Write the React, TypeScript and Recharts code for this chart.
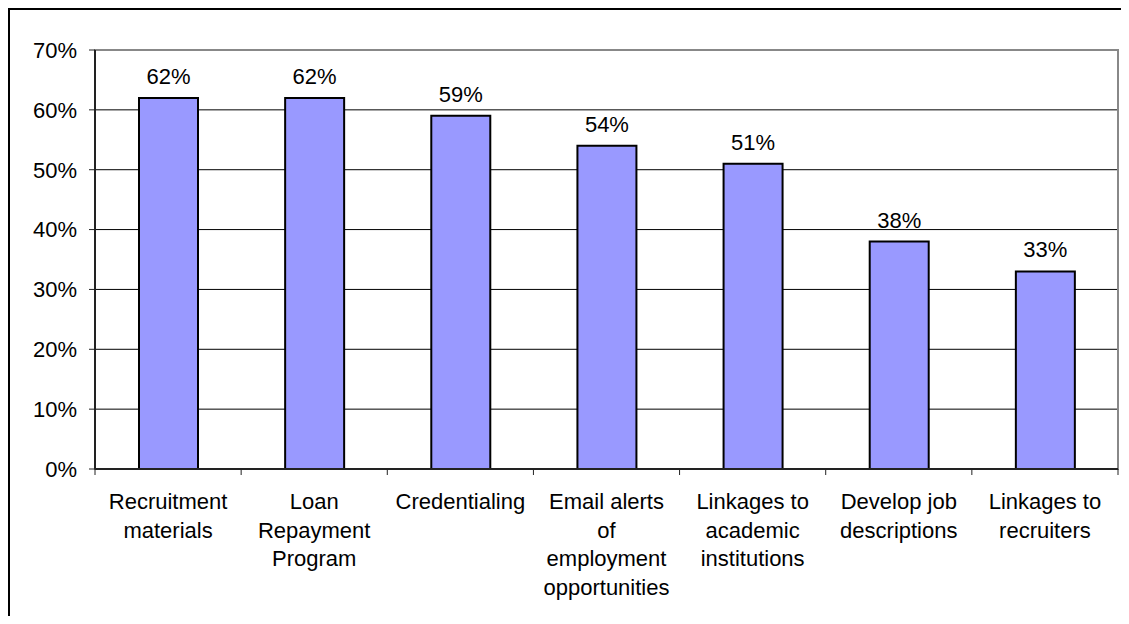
import { BarChart, Bar, XAxis, YAxis, CartesianGrid, LabelList, ReferenceArea } from 'recharts';

const categories = [
  'Recruitment\nmaterials',
  'Loan\nRepayment\nProgram',
  'Credentialing',
  'Email alerts\nof\nemployment\nopportunities',
  'Linkages to\nacademic\ninstitutions',
  'Develop job\ndescriptions',
  'Linkages to\nrecruiters',
];
const shares = [0.62, 0.62, 0.59, 0.54, 0.51, 0.38, 0.33];
const yTicks = [0, 0.1, 0.2, 0.3, 0.4, 0.5, 0.6, 0.7];

const data = categories.map((name, i) => ({ name, value: shares[i] }));

const FONT = '"Liberation Sans", Arial, sans-serif';
const pct = (v: number) => `${Math.round(v * 100)}%`;

// category label plus the little tick marks at the category boundaries
function CategoryTick(props: any) {
  const { x, y, payload, index, width, visibleTicksCount } = props;
  const lines = String(payload.value).split('\n');
  const band = width && visibleTicksCount ? width / visibleTicksCount : 146;
  const isLast = index === visibleTicksCount - 1;
  return (
    <g>
      <line x1={x - band / 2} x2={x - band / 2} y1={y} y2={y + 6} stroke="#222" strokeWidth={1} />
      {isLast && <line x1={x + band / 2} x2={x + band / 2} y1={y} y2={y + 6} stroke="#222" strokeWidth={1} />}
      <text x={x} y={y + 40} textAnchor="middle" fill="#000" fontSize={22} fontFamily={FONT}>
        {lines.map((line, i) => (
          <tspan key={i} x={x} dy={i === 0 ? 0 : 28.5}>
            {line}
          </tspan>
        ))}
      </text>
    </g>
  );
}

export default function App() {
  return (
    <div
      style={{
        width: 1111,
        height: 606,
        borderTop: '2px solid #000',
        borderLeft: '2px solid #000',
        overflow: 'hidden',
        background: '#fff',
      }}
    >
      <BarChart
        width={1111}
        height={606}
        data={data}
        margin={{ top: 40, right: 3, bottom: 0, left: 0 }}
        barSize={59}
      >
        <CartesianGrid vertical={false} stroke="#000" strokeWidth={1} />
        <ReferenceArea
          x1={categories[0]}
          x2={categories[categories.length - 1]}
          y1={0}
          y2={0.7}
          fill="none"
          fillOpacity={0}
          stroke="#888"
          strokeWidth={2}
          ifOverflow="visible"
        />
        <XAxis
          dataKey="name"
          interval={0}
          tickLine={false}
          tickSize={0}
          tickMargin={0}
          axisLine={{ stroke: '#222', strokeWidth: 2 }}
          tick={<CategoryTick />}
          height={147}
        />
        <YAxis
          domain={[0, 0.7]}
          ticks={yTicks}
          tickFormatter={pct}
          tickSize={6}
          tickMargin={12}
          tickLine={{ stroke: '#222' }}
          axisLine={{ stroke: '#222', strokeWidth: 2 }}
          tick={{ fill: '#000', fontSize: 22, fontFamily: FONT }}
          width={85}
        />
        <Bar dataKey="value" fill="#9999FF" stroke="#000" strokeWidth={2} isAnimationActive={false}>
          <LabelList
            dataKey="value"
            position="top"
            offset={14}
            formatter={(v: any) => pct(Number(v))}
            fill="#000"
            fontSize={22}
            fontFamily={FONT}
          />
        </Bar>
      </BarChart>
    </div>
  );
}
